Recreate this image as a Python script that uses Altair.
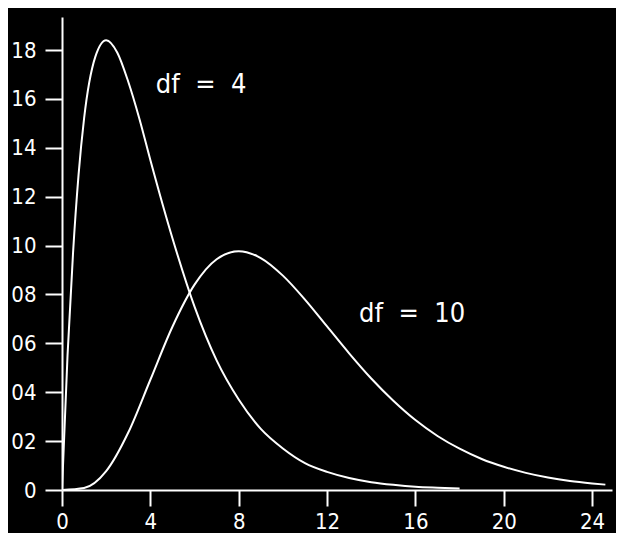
import altair as alt
import pandas as pd

# Values (chi-square densities)
x_df4 = [0, 0.25, 0.5, 0.75, 1, 1.5, 2, 2.5, 3, 3.5, 4, 5, 6, 7, 8, 9, 10, 11, 12, 13, 14, 15, 16, 17, 18]
y_df4 = [0, 0.055, 0.097, 0.129, 0.152, 0.177, 0.184, 0.179, 0.167, 0.152, 0.135, 0.103, 0.075, 0.053, 0.037,
         0.025, 0.017, 0.011, 0.0074, 0.0049, 0.0032, 0.0021, 0.0013, 0.0009, 0.0006]

x_df10 = [0, 1, 2, 3, 4, 5, 6, 7, 8, 9, 10, 11, 12, 13, 14, 15, 16, 17, 18, 19, 20, 21, 22, 23, 24, 24.6]
y_df10 = [0, 0.0008, 0.0077, 0.0235, 0.0451, 0.0668, 0.084, 0.0944, 0.0977, 0.0949, 0.0877, 0.0779, 0.0669,
          0.0559, 0.0456, 0.0365, 0.0286, 0.0221, 0.0169, 0.0127, 0.0095, 0.007, 0.0051, 0.0037, 0.0027, 0.0022]

labels = ["df\u00a0\u00a0=\u00a0\u00a04", "df\u00a0\u00a0=\u00a0\u00a010"]
label_x = [6.3, 15.85]
label_y = [0.1624, 0.0687]

x_ticks = [0, 4, 8, 12, 16, 20, 24]
y_ticks = [0, 0.02, 0.04, 0.06, 0.08, 0.10, 0.12, 0.14, 0.16, 0.18]

FONT = "DejaVu Sans Condensed, Liberation Sans, sans-serif"

curves = pd.concat([
    pd.DataFrame({"x": x_df4, "y": y_df4, "series": "df4"}),
    pd.DataFrame({"x": x_df10, "y": y_df10, "series": "df10"}),
])
ann = pd.DataFrame({"x": label_x, "y": label_y, "text": labels})

xscale = alt.Scale(domain=[0, 24.9], nice=False, zero=False)
yscale = alt.Scale(domain=[0, 0.1935], nice=False, zero=False)

lines = alt.Chart(curves).mark_line(color="white", strokeWidth=2, interpolate="monotone", clip=True).encode(
    x=alt.X("x:Q", scale=xscale, axis=alt.Axis(
        values=x_ticks, title=None, grid=False, domainColor="white", domainWidth=2,
        tickColor="white", tickWidth=2, tickSize=16, labelPadding=5,
        labelColor="white", labelFont=FONT, labelFontSize=22, labelFlush=False)),
    y=alt.Y("y:Q", scale=yscale, axis=alt.Axis(
        values=y_ticks, title=None, grid=False, domainColor="white", domainWidth=2,
        tickColor="white", tickWidth=2, tickSize=17, labelPadding=9,
        labelColor="white", labelFont=FONT, labelFontSize=22, labelFlush=False,
        labelExpr="datum.value == 0 ? '0' : slice(format(datum.value, '.2f'), 2)")),
    detail="series:N",
)

text = alt.Chart(ann).mark_text(color="white", font=FONT, fontSize=27, align="center",
                                baseline="alphabetic").encode(
    x=alt.X("x:Q", scale=xscale),
    y=alt.Y("y:Q", scale=yscale),
    text="text:N",
)

chart = alt.layer(lines, text).properties(
    width=550, height=473,
    background="black",
    autosize=alt.AutoSizeParams(type="none"),
    padding={"left": 54, "top": 9, "right": 4, "bottom": 43},
).configure_view(stroke=None)

chart.save("out.html", embed_options={"renderer": "svg", "actions": False})
